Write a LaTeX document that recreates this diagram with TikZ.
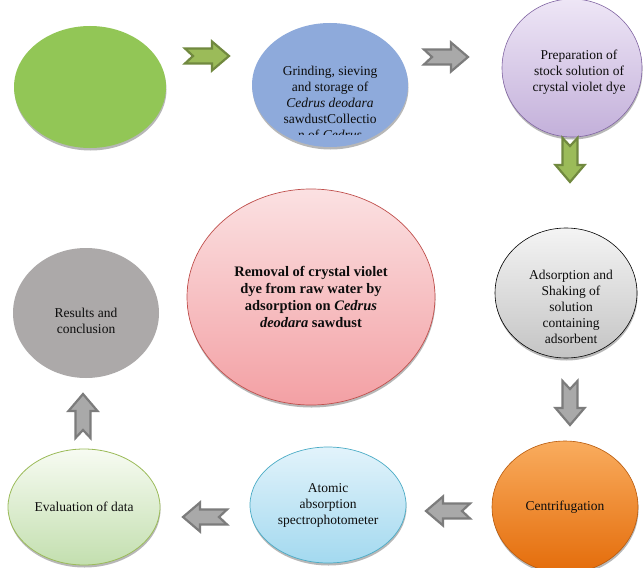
\documentclass[tikz,border=0pt]{standalone}
\usepackage{fontspec}
\setmainfont{Liberation Serif}
\usetikzlibrary{shapes.geometric,shadows}
\definecolor{txt}{HTML}{0D0D0D}
\definecolor{grfill}{HTML}{92C656}
\definecolor{blfill}{HTML}{8EAADB}
\definecolor{puTop}{HTML}{EEE6F6}
\definecolor{puBot}{HTML}{C3B0DA}
\definecolor{puLine}{HTML}{8064A2}
\definecolor{pkTop}{HTML}{FBE1E2}
\definecolor{pkBot}{HTML}{F3A0A4}
\definecolor{pkLine}{HTML}{C0504D}
\definecolor{gyTop}{HTML}{F4F4F4}
\definecolor{gyBot}{HTML}{C4C4C4}
\definecolor{orTop}{HTML}{F9AC5E}
\definecolor{orBot}{HTML}{E46C0A}
\definecolor{orLine}{HTML}{B85A0C}
\definecolor{cyTop}{HTML}{E2F3FB}
\definecolor{cyBot}{HTML}{A3D9EF}
\definecolor{cyLine}{HTML}{4BACC6}
\definecolor{lgTop}{HTML}{F7FBF2}
\definecolor{lgBot}{HTML}{C3DFAF}
\definecolor{lgLine}{HTML}{9BBB59}
\definecolor{resfill}{HTML}{ACA9A9}
\definecolor{arGfill}{HTML}{9BBB59}
\definecolor{arGline}{HTML}{71893F}
\definecolor{arYfill}{HTML}{A9A9A9}
\definecolor{arYline}{HTML}{7C7C7C}
\tikzset{
  circ/.style={ellipse, inner sep=0pt, align=center, text=txt,
    font=\fontsize{13.5}{16}\selectfont,
    drop shadow={shadow xshift=0.5pt, shadow yshift=-2.5pt, opacity=.4, fill=black!70}},
  plaincirc/.style={ellipse, inner sep=0pt, align=center, text=txt,
    font=\fontsize{13.5}{16}\selectfont},
  txtonly/.style={inner sep=0pt, align=center, text=txt,
    font=\fontsize{13.5}{16}\selectfont},
  greenarr/.style={fill=arGfill, draw=arGline, line width=2.2pt, line join=miter},
  grayarr/.style={fill=arYfill, draw=arYline, line width=2.2pt, line join=miter},
  barrow/.pic={
    \filldraw[#1] (-22,-7.5) -- (-14,0) -- (-22,7.5) -- (5,7.5) -- (5,14.5)
      -- (22,0) -- (5,-14.5) -- (5,-7.5) -- cycle;
  }
}
\begin{document}
\begin{tikzpicture}[x=1pt,y=-1pt]
\useasboundingbox (0,0) rectangle (644,567);
\clip (0,0) rectangle (644,567);
\fill[white] (0,0) rectangle (644,567);

% circles
\node[circ, fill=grfill, minimum width=152pt, minimum height=122pt] (n1) at (90,87) {};
\node[circ, fill=blfill, minimum width=156pt, minimum height=124pt] (n2) at (330,85) {};
\node[circ, top color=puTop, bottom color=puBot, draw=puLine, line width=0.6pt,
      minimum width=140pt, minimum height=138pt] (n3) at (572,68) {};
\node[txtonly] (n3t) at (579,72) {Preparation of\\stock solution of\\crystal violet dye};
\node[circ, top color=pkTop, bottom color=pkBot, draw=pkLine, line width=0.7pt,
      minimum width=248pt, minimum height=216pt,
      font=\fontsize{14.5}{17.2}\selectfont\bfseries] (n4) at (311,297)
      {Removal of crystal violet\\dye from raw water by\\adsorption on \textit{Cedrus}\\\textit{deodara} sawdust};
\node[circ, top color=gyTop, bottom color=gyBot, draw=black, line width=0.6pt,
      minimum width=142pt, minimum height=130pt] (n5) at (566,293) {};
\node[txtonly] (n5t) at (571,307) {Adsorption and\\Shaking of\\solution\\containing\\adsorbent};
\node[circ, top color=orTop, bottom color=orBot, draw=orLine, line width=0.6pt,
      minimum width=146pt, minimum height=132pt] (n6) at (565,507) {Centrifugation};
\node[circ, top color=cyTop, bottom color=cyBot, draw=cyLine, line width=0.7pt,
      minimum width=156pt, minimum height=116pt] (n7) at (328,505)
      {Atomic\\absorption\\spectrophotometer};
\node[circ, top color=lgTop, bottom color=lgBot, draw=lgLine, line width=0.8pt,
      minimum width=152pt, minimum height=116pt] (n8) at (84,507) {Evaluation of data};
\node[plaincirc, fill=resfill, minimum width=146pt, minimum height=130pt] (n9) at (86,313) {};
\node[txtonly] (n9t) at (86,321) {Results and\\conclusion};

% clipped text of the blue circle
\begin{scope}
\clip (240,40) rectangle (420,134);
\node[txtonly] (n2t) at (330,103)
  {Grinding, sieving\\and storage of\\\textit{Cedrus deodara}\\sawdustCollectio\\n of \textit{Cedrus}};
\end{scope}

% block arrows
\pic at (207,56) {barrow=greenarr};
\pic at (446,57) {barrow=grayarr};
\pic[rotate=-90] at (570,160) {barrow=greenarr};
\pic[rotate=-90] at (570,403) {barrow=grayarr};
\pic[rotate=180] at (448,511) {barrow=grayarr};
\pic[rotate=180] at (205,517) {barrow=grayarr};
\pic[rotate=90] at (83,416) {barrow=grayarr};
\end{tikzpicture}
\end{document}
